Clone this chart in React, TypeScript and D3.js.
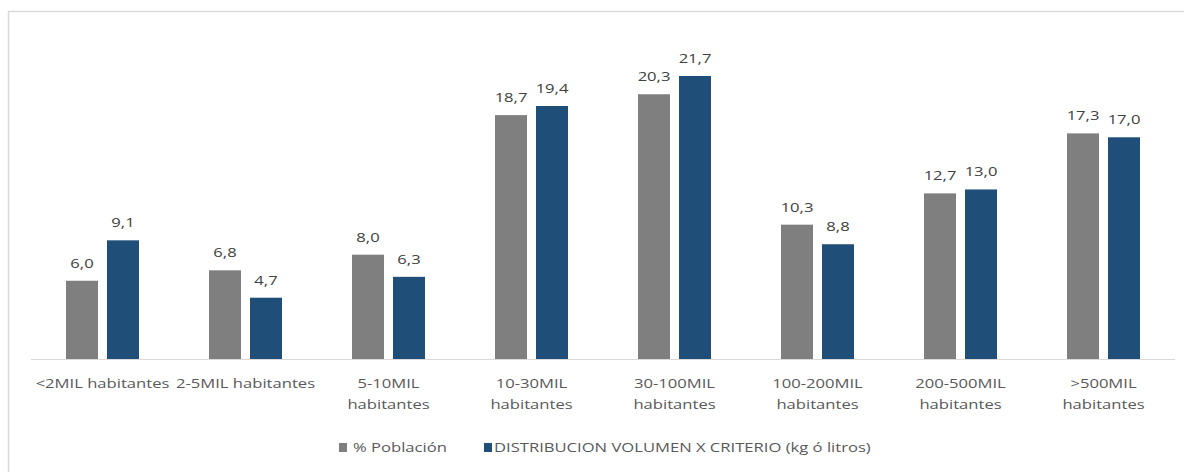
import React from "react";
import * as d3 from "d3";

const categories: string[][] = [
  ["<2MIL habitantes"],
  ["2-5MIL habitantes"],
  ["5-10MIL", "habitantes"],
  ["10-30MIL", "habitantes"],
  ["30-100MIL", "habitantes"],
  ["100-200MIL", "habitantes"],
  ["200-500MIL", "habitantes"],
  [">500MIL", "habitantes"],
];
const poblacion = [6.0, 6.8, 8.0, 18.7, 20.3, 10.3, 12.7, 17.3];
const volumen = [9.1, 4.7, 6.3, 19.4, 21.7, 8.8, 13.0, 17.0];
const seriesNames = ["% Población", "DISTRIBUCION VOLUMEN X CRITERIO (kg ó litros)"];
const colors = ["#7f7f7f", "#1f4e79"];

const W = 1184;
const H = 472;
const font = "'Open Sans', 'Noto Sans', sans-serif";
const SX = 1.23;

function T(props: { x: number; y: number; anchor?: string; fill: string; children: React.ReactNode }) {
  return (
    <text
      transform={`translate(${props.x},${props.y}) scale(${SX},1)`}
      textAnchor={props.anchor || "middle"}
      fontFamily={font}
      fontSize={13.5}
      fill={props.fill}
    >
      {props.children}
    </text>
  );
}

export default function App() {
  const x0 = d3.scaleBand<number>().domain(d3.range(categories.length)).range([31, 1175]).paddingInner(0).paddingOuter(0);
  const x1 = d3.scaleBand<number>().domain([0, 1]).range([0, x0.bandwidth()]).paddingInner(0.2195).paddingOuter(0.8537);
  const y = d3.scaleLinear().domain([0, 21.7]).range([359, 76]);
  const fmt = (v: number) => v.toFixed(1).replace(".", ",");
  const series = [poblacion, volumen];
  return (
    <div style={{ position: "absolute", left: 0, top: 0, width: W, height: H, background: "#fff" }}>
      <svg width={W} height={H} style={{ display: "block" }}>
        <rect x={8.5} y={11.5} width={W + 10} height={H + 10} fill="#fff" stroke="#d9d9d9" strokeWidth={1.5} />
        {series.map((vals, s) =>
          vals.map((v, i) => {
            const bx = (x0(i) as number) + (x1(s) as number);
            return (
              <g key={`${s}-${i}`}>
                <rect x={bx} y={y(v)} width={x1.bandwidth()} height={y(0) - y(v)} fill={colors[s]} />
                <T x={bx + x1.bandwidth() / 2} y={y(v) - 13} fill="#404040">
                  {fmt(v)}
                </T>
              </g>
            );
          })
        )}
        <line x1={31} x2={1175} y1={359.5} y2={359.5} stroke="#d9d9d9" strokeWidth={1} />
        {categories.map((lines, i) => (
          <g key={i}>
            {lines.map((l, j) => (
              <T key={j} x={(x0(i) as number) + x0.bandwidth() / 2} y={388 + j * 21} fill="#595959">
                {l}
              </T>
            ))}
          </g>
        ))}
        <g>
          <rect x={339} y={443} width={8} height={9} fill={colors[0]} />
          <T x={353} y={452} anchor="start" fill="#595959">{seriesNames[0]}</T>
          <rect x={484} y={443} width={8} height={9} fill={colors[1]} />
          <T x={494} y={452} anchor="start" fill="#595959">{seriesNames[1]}</T>
        </g>
      </svg>
    </div>
  );
}
